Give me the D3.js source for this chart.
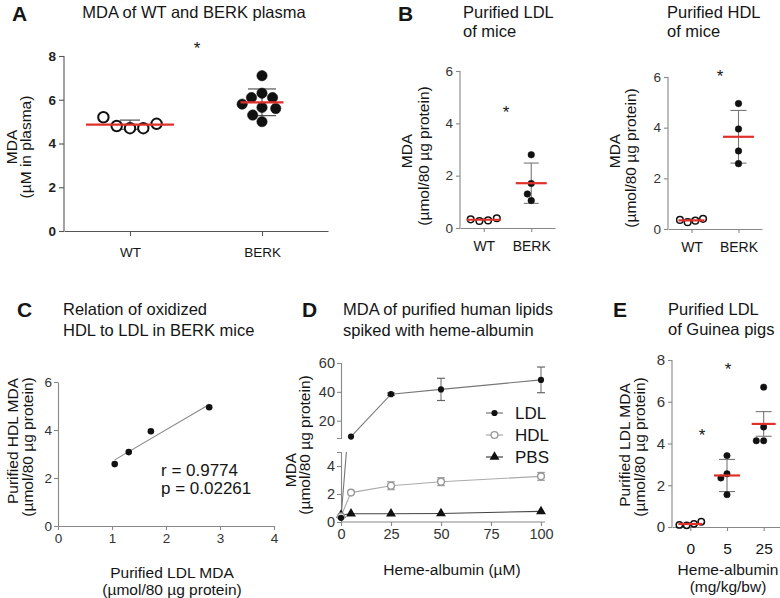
<!DOCTYPE html>
<html><head><meta charset="utf-8">
<script src="https://cdn.jsdelivr.net/npm/d3@7"></script>
<style>body{margin:0;background:#fff}svg{display:block}</style>
</head><body>
<svg id="c" width="780" height="598"></svg>
<script>
// ---------------- DATA ----------------
// Panel A
const aCategories = ["WT", "BERK"];
const aWT = [5.2, 4.8, 4.7, 4.7, 4.9];
const aBERK = [7.1, 6.3, 5.0, 6.1, 6.1, 5.8, 5.65, 5.6, 5.3];
const aErr = [0.21, 0.61];
const aTicks = [0, 2, 4, 6, 8];
// Panel B
const bCategories = ["WT", "BERK"];
const bLdlWT = [0.33, 0.27, 0.29, 0.37];
const bLdlBERK = [2.8, 1.7, 1.05, 1.3];
const bLdlErr = [0.04, 0.77];
const bHdlWT = [0.36, 0.27, 0.33, 0.40];
const bHdlBERK = [4.95, 3.95, 3.08, 2.58];
const bHdlErr = [0.05, 1.04];
const bTicks = [0, 2, 4, 6];
// Panel C
const cLdl = [1.05, 1.31, 1.72, 2.8];
const cHdl = [2.58, 3.08, 3.95, 4.95];
const cStats = ["r = 0.9774", "p = 0.02261"];
const cXTicks = [0, 1, 2, 3, 4];
const cYTicks = [0, 2, 4, 6];
// Panel D
const dDose = [0, 5, 25, 50, 100];
const dLDL = [0.3, 9.0, 38.4, 41.7, 48.3];
const dLDLerr = [0, 0, 0.8, 7.7, 8.9];
const dHDL = [0.4, 2.1, 2.59, 2.88, 3.26];
const dHDLerr = [0, 0, 0.28, 0.28, 0.28];
const dPBS = [0.5, 0.59, 0.59, 0.61, 0.76];
const dXTicks = [0, 25, 50, 75, 100];
const dUpperTicks = [20, 40, 60];
const dLowerTicks = [0, 2, 4];
const dSeries = ["LDL", "HDL", "PBS"];
// Panel E
const eCategories = ["0", "5", "25"];
const eGroups = [[0.1, 0.08, 0.15, 0.25], [3.42, 2.55, 2.35, 1.55], [6.7, 4.79, 4.13, 4.13]];
const eErr = [0.05, 0.77, 0.59];
const eTicks = [0, 2, 4, 6, 8];

// ---------------- HELPERS ----------------
const FONT = '"Liberation Sans", Arial, Helvetica, sans-serif';
const RED = "#e0302b";
const FMT = d3.format("~g");
const svg = d3.select("#c").attr("font-family", FONT);

function txt(x, y, s, o = {}) {
  const t = svg.append("text").attr("x", x).attr("y", y).text(s)
    .attr("font-size", o.size || 16).attr("fill", o.fill || "#151515")
    .attr("text-anchor", o.anchor || "start")
    .attr("font-weight", o.weight || "normal");
  if (o.rotate) t.attr("transform", `rotate(-90,${x},${y})`);
  return t;
}
function styleAxis(g, color, size, weight, tcolor) {
  g.attr("font-family", FONT);
  g.select(".domain").attr("stroke", color).attr("stroke-width", 1.1);
  g.selectAll(".tick line").attr("stroke", color).attr("stroke-width", 1.1);
  g.selectAll(".tick text").attr("font-size", size).attr("font-weight", weight).attr("fill", tcolor);
}
function rowOffsets(n, gap) { return d3.range(n).map(i => (i - (n - 1) / 2) * gap); }
function swarm(vals, y, D) {
  const placed = [];
  vals.forEach(v => {
    const py = y(v);
    const cands = [0];
    placed.forEach(p => {
      const dy = Math.abs(py - p.y);
      if (dy < D) { const dx = Math.sqrt(D * D - dy * dy); cands.push(p.x + dx, p.x - dx); }
    });
    cands.sort((a, b) => Math.abs(a) - Math.abs(b) || a - b);
    const ok = cands.find(cx => placed.every(p => Math.hypot(cx - p.x, py - p.y) >= D - 1e-6));
    placed.push({ x: ok, y: py });
  });
  return placed.map(p => p.x);
}

function dotPanel(p) {
  const x = d3.scalePoint().domain(p.cats).range([p.left, p.right]).padding(0.5);
  const y = d3.scaleLinear().domain(p.domain).range([p.bottom, p.top]);
  const gy = svg.append("g").attr("transform", `translate(${p.left},0)`)
    .call(d3.axisLeft(y).tickValues(p.ticks).tickFormat(FMT).tickSize(p.tick).tickSizeOuter(0).tickPadding(3));
  styleAxis(gy, p.axisColor, p.yFont, p.yWeight, p.tickColor);
  const gx = svg.append("g").attr("transform", `translate(0,${p.bottom})`)
    .call(d3.axisBottom(x).tickSize(p.tick).tickSizeOuter(0).tickPadding(p.xPad));
  styleAxis(gx, p.axisColor, p.xFont, "normal", "#151515");
  gy.select(".domain").attr("d", `M0,${p.bottom}V${p.top}`);
  p.groups.forEach((vals, i) => {
    const cx = x(p.cats[i]);
    const offs = p.layout[i] === "row" ? rowOffsets(vals.length, p.rowGap[i]) : swarm(vals, y, p.r * 2 + 1);
    const m = d3.mean(vals), e = p.err[i], ch = p.cap[i];
    const g = svg.append("g");
    g.append("line").attr("x1", cx).attr("x2", cx).attr("y1", y(m - e)).attr("y2", y(m + e))
      .attr("stroke", p.errColor).attr("stroke-width", 1.1);
    [m - e, m + e].forEach(v => g.append("line").attr("x1", cx - ch).attr("x2", cx + ch)
      .attr("y1", y(v)).attr("y2", y(v)).attr("stroke", p.errColor).attr("stroke-width", 1.1));
    g.selectAll("circle").data(vals).join("circle")
      .attr("cx", (d, j) => cx + offs[j]).attr("cy", d => y(d)).attr("r", p.r)
      .attr("fill", p.open[i] ? "#fff" : "#111").attr("stroke", "#111")
      .attr("stroke-width", p.open[i] ? p.sw : 0.5);
    g.append("line").attr("x1", cx - p.mean[i]).attr("x2", cx + p.mean[i])
      .attr("y1", y(m)).attr("y2", y(m)).attr("stroke", RED).attr("stroke-width", 2.2);
  });
  return { x, y };
}

// ---------------- PANEL A ----------------
txt(12, 21, "A", { size: 21, weight: "bold" });
txt(194, 18, "MDA of WT and BERK plasma", { size: 16.5, anchor: "middle" });
txt(17, 147, "MDA", { size: 15.5, anchor: "middle", rotate: true });
txt(31, 147, "(µM in plasma)", { size: 15.5, anchor: "middle", rotate: true });
dotPanel({
  cats: aCategories, groups: [aWT, aBERK], err: aErr, domain: [0, 8], ticks: aTicks,
  left: 64, right: 328, top: 56, bottom: 231, tick: 5, xPad: 11,
  axisColor: "#555", tickColor: "#222", yFont: 13.5, yWeight: "bold", xFont: 13.5,
  layout: ["row", "swarm"], rowGap: [13.3, 0], r: 5.2, sw: 2, open: [true, false],
  mean: [44, 21.5], cap: [10, 14], errColor: "#444"
});
txt(197, 54, "*", { size: 17, anchor: "middle" });

// ---------------- PANEL B ----------------
txt(398, 21, "B", { size: 21, weight: "bold" });
txt(463, 18, "Purified LDL", { size: 16.5 });
txt(463, 37, "of mice", { size: 16.5 });
txt(667, 18, "Purified HDL", { size: 16.5 });
txt(667, 37, "of mice", { size: 16.5 });
txt(412, 151, "MDA", { size: 15.5, anchor: "middle", rotate: true });
txt(429, 156, "(µmol/80 µg protein)", { size: 15.5, anchor: "middle", rotate: true });
txt(620, 151, "MDA", { size: 15.5, anchor: "middle", rotate: true });
txt(636, 158, "(µmol/80 µg protein)", { size: 15.5, anchor: "middle", rotate: true });
dotPanel({
  cats: bCategories, groups: [bLdlWT, bLdlBERK], err: bLdlErr, domain: [0, 6], ticks: bTicks,
  left: 460, right: 555, top: 71, bottom: 228, tick: 4, xPad: 9,
  axisColor: "#888", tickColor: "#333", yFont: 13.5, yWeight: "normal", xFont: 14,
  layout: ["row", "swarm"], rowGap: [8.7, 0], r: 3.3, sw: 1.5, open: [true, false],
  mean: [17, 15.5], cap: [6, 7.5], errColor: "#777"
});
txt(506, 118, "*", { size: 17, anchor: "middle" });
dotPanel({
  cats: bCategories, groups: [bHdlWT, bHdlBERK], err: bHdlErr, domain: [0, 6], ticks: bTicks,
  left: 668, right: 762, top: 77, bottom: 229, tick: 4, xPad: 9,
  axisColor: "#888", tickColor: "#333", yFont: 13.5, yWeight: "normal", xFont: 14,
  layout: ["row", "swarm"], rowGap: [7.7, 0], r: 3.3, sw: 1.5, open: [true, false],
  mean: [13, 15.5], cap: [6, 8], errColor: "#777"
});
txt(720, 82, "*", { size: 17, anchor: "middle" });

// ---------------- PANEL C ----------------
txt(17, 317, "C", { size: 21, weight: "bold" });
txt(63, 315, "Relation of oxidized", { size: 16.5 });
txt(63, 336, "HDL to LDL in BERK mice", { size: 16.5 });
txt(18, 441, "Purified HDL MDA", { size: 15.5, anchor: "middle", rotate: true });
txt(33, 447, "(µmol/80 µg protein)", { size: 15.5, anchor: "middle", rotate: true });
txt(172, 578, "Purified LDL MDA", { size: 15.5, anchor: "middle" });
txt(172, 595, "(µmol/80 µg protein)", { size: 15.5, anchor: "middle" });
{
  const x = d3.scaleLinear().domain([0, 4]).range([58, 274]);
  const y = d3.scaleLinear().domain([0, 6]).range([526, 382]);
  const gx = svg.append("g").attr("transform", "translate(0,526)")
    .call(d3.axisBottom(x).tickValues(cXTicks).tickFormat(FMT).tickSize(4).tickSizeOuter(0).tickPadding(3));
  styleAxis(gx, "#888", 13.5, "normal", "#333");
  const gy = svg.append("g").attr("transform", "translate(58,0)")
    .call(d3.axisLeft(y).tickValues(cYTicks).tickFormat(FMT).tickSize(4).tickSizeOuter(0).tickPadding(2));
  styleAxis(gy, "#888", 13.5, "normal", "#333");
  const mx = d3.mean(cLdl), my = d3.mean(cHdl);
  const slope = d3.sum(cLdl, (v, i) => (v - mx) * (cHdl[i] - my)) / d3.sum(cLdl, v => (v - mx) ** 2);
  const ext = d3.extent(cLdl);
  svg.append("line").attr("x1", x(ext[0])).attr("x2", x(ext[1]))
    .attr("y1", y(my + slope * (ext[0] - mx))).attr("y2", y(my + slope * (ext[1] - mx)))
    .attr("stroke", "#888").attr("stroke-width", 1.1);
  svg.append("g").selectAll("circle").data(cLdl).join("circle")
    .attr("cx", d => x(d)).attr("cy", (d, i) => y(cHdl[i])).attr("r", 3.3).attr("fill", "#111");
  txt(161, 476, cStats[0], { size: 17 });
  txt(161, 494, cStats[1], { size: 17 });
}

// ---------------- PANEL D ----------------
txt(302, 317, "D", { size: 21, weight: "bold" });
txt(343, 315, "MDA of purified human lipids", { size: 16.5 });
txt(343, 336, "spiked with heme-albumin", { size: 16.5 });
txt(296, 470, "MDA", { size: 15.5, anchor: "middle", rotate: true });
txt(310, 445, "(µmol/80 µg protein)", { size: 15.5, anchor: "middle", rotate: true });
txt(452, 575, "Heme-albumin (µM)", { size: 15.5, anchor: "middle" });
{
  const x = d3.scaleLinear().domain([0, 100]).range([341, 541]);
  const yUp = d3.scaleLinear().domain([8, 60]).range([438, 363]);
  const yLo = d3.scaleLinear().domain([0, 5]).range([522, 452]);
  const gx = svg.append("g").attr("transform", "translate(0,522)")
    .call(d3.axisBottom(x).tickValues(dXTicks).tickFormat(FMT).tickSize(4).tickSizeOuter(0).tickPadding(3));
  styleAxis(gx, "#888", 14.5, "normal", "#333");
  gx.select(".domain").attr("d", "M341,0H545");
  const gu = svg.append("g").attr("transform", "translate(341,0)")
    .call(d3.axisLeft(yUp).tickValues(dUpperTicks).tickFormat(FMT).tickSize(4).tickSizeOuter(4).tickPadding(2));
  styleAxis(gu, "#888", 14.5, "normal", "#333");
  const gl = svg.append("g").attr("transform", "translate(341,0)")
    .call(d3.axisLeft(yLo).tickValues(dLowerTicks).tickFormat(FMT).tickSize(4).tickSizeOuter(4).tickPadding(2));
  styleAxis(gl, "#888", 14.5, "normal", "#333");

  const defs = svg.append("defs");
  defs.append("clipPath").attr("id", "cu").append("rect").attr("x", 330).attr("y", 340).attr("width", 230).attr("height", 98);
  defs.append("clipPath").attr("id", "cl").append("rect").attr("x", 330).attr("y", 452).attr("width", 230).attr("height", 90);

  const seriesVals = [dLDL, dHDL, dPBS];
  const lineCol = ["#777", "#aaa", "#444"];
  seriesVals.forEach((vals, k) => {
    [["cl", yLo], ["cu", yUp]].forEach(([cid, ys]) => {
      svg.append("path").attr("clip-path", `url(#${cid})`)
        .attr("d", d3.line().x((d, i) => x(dDose[i])).y(d => ys(d))(vals))
        .attr("fill", "none").attr("stroke", lineCol[k]).attr("stroke-width", 1.1);
    });
  });
  const ySeg = v => v <= 5.2 ? yLo(v) : yUp(v);
  [[dLDL, dLDLerr, "#666", 4], [dHDL, dHDLerr, "#999", 3.8]].forEach(([vals, errs, col, ch]) => {
    vals.forEach((v, i) => {
      if (!errs[i]) return;
      const ys = v <= 5.2 ? yLo : yUp, cx = x(dDose[i]);
      svg.append("line").attr("x1", cx).attr("x2", cx).attr("y1", ys(v - errs[i])).attr("y2", ys(v + errs[i])).attr("stroke", col);
      [v - errs[i], v + errs[i]].forEach(w => svg.append("line").attr("x1", cx - ch).attr("x2", cx + ch)
        .attr("y1", ys(w)).attr("y2", ys(w)).attr("stroke", col).attr("stroke-width", 1.2));
    });
  });
  const tri = d3.symbol().type(d3.symbolTriangle).size(42);
  svg.append("g").selectAll("path").data(dPBS).join("path")
    .attr("transform", (d, i) => `translate(${x(dDose[i])},${ySeg(d)})`).attr("d", tri).attr("fill", "#111");
  svg.append("g").selectAll("circle").data(dHDL).join("circle")
    .attr("cx", (d, i) => x(dDose[i])).attr("cy", d => ySeg(d)).attr("r", 3.4)
    .attr("fill", "#fff").attr("stroke", "#999").attr("stroke-width", 1.4);
  svg.append("g").selectAll("circle").data(dLDL).join("circle")
    .attr("cx", (d, i) => x(dDose[i])).attr("cy", d => ySeg(d)).attr("r", 3.1).attr("fill", "#111");

  const ly = d3.scalePoint().domain(dSeries).range([413, 457]);
  dSeries.forEach((s, k) => {
    const yy = ly(s);
    svg.append("line").attr("x1", 486).attr("x2", 503).attr("y1", yy).attr("y2", yy).attr("stroke", lineCol[k]).attr("stroke-width", 1.2);
    if (k === 0) svg.append("circle").attr("cx", 494.5).attr("cy", yy).attr("r", 3.1).attr("fill", "#111");
    if (k === 1) svg.append("circle").attr("cx", 494.5).attr("cy", yy).attr("r", 3.4).attr("fill", "#fff").attr("stroke", "#999").attr("stroke-width", 1.4);
    if (k === 2) svg.append("path").attr("transform", `translate(494.5,${yy})`).attr("d", tri).attr("fill", "#111");
    txt(515, yy + 6, s, { size: 17 });
  });
}

// ---------------- PANEL E ----------------
txt(613, 317, "E", { size: 21, weight: "bold" });
txt(668, 315, "Purified LDL", { size: 16.5 });
txt(668, 335, "of Guinea pigs", { size: 16.5 });
txt(630, 445, "Purified LDL MDA", { size: 15.5, anchor: "middle", rotate: true });
txt(645, 447, "(µmol/80 µg protein)", { size: 15.5, anchor: "middle", rotate: true });
txt(728, 575, "Heme-albumin", { size: 15.5, anchor: "middle" });
txt(728, 592, "(mg/kg/bw)", { size: 15.5, anchor: "middle" });
dotPanel({
  cats: eCategories, groups: eGroups, err: eErr, domain: [0, 8], ticks: eTicks,
  left: 672, right: 782, top: 360, bottom: 527, tick: 4, xPad: 12,
  axisColor: "#888", tickColor: "#333", yFont: 15, yWeight: "normal", xFont: 15.5,
  layout: ["row", "swarm", "swarm"], rowGap: [7.3, 0, 0], r: 3.2, sw: 1.5, open: [true, false, false],
  mean: [12, 13, 12], cap: [5, 8, 8], errColor: "#777"
});
txt(702, 441, "*", { size: 17, anchor: "middle" });
txt(728, 375, "*", { size: 17, anchor: "middle" });
</script>
</body></html>
